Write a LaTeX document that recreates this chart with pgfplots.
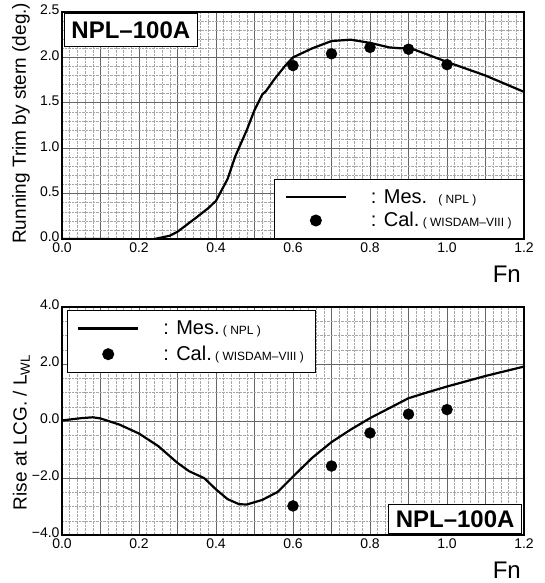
\documentclass[border=0pt]{standalone}
\usepackage{fontspec}
\setmainfont{Liberation Sans}
\usepackage{pgfplots}
\pgfplotsset{compat=1.18}
\pgfplotsset{
  base/.style={
    scale only axis, width=462pt,
    xmin=0, xmax=1.2,
    xtick={0,0.1,0.2,0.3,0.4,0.5,0.6,0.7,0.8,0.9,1.0,1.1,1.2},
    xticklabels={0.0,,0.2,,0.4,,0.6,,0.8,,1.0,,1.2},
    minor x tick num=4,
    grid=both,
    major grid style={gray!80!black, line width=0.7pt},
    minor grid style={gray!70, densely dotted, line width=0.5pt},
    major tick length=0pt, minor tick length=0pt,
    axis line style={line width=1.3pt},
    tick label style={font=\fontsize{14}{14}\selectfont},
    /pgf/number format/assume math mode=true,
    xticklabel style={yshift=0pt},
    yticklabel style={xshift=1pt, yshift=2pt},
    label style={font=\fontsize{19}{19}\selectfont},
    xlabel={Fn},
    xlabel style={at={(axis description cs:1,0)}, anchor=north east, font=\fontsize{24}{24}\selectfont, inner sep=0pt, yshift=-27pt, xshift=-3pt},
    legend cell align=left,
    legend style={draw=black, line width=1pt, fill=white,
      font=\fontsize{20}{20}\selectfont, inner xsep=10pt, inner ysep=8pt,
      row sep=4pt,
      /tikz/every odd column/.append style={column sep=22pt}},
  }
}
\newcommand{\smalltag}{\fontsize{12}{12}\selectfont}
\begin{document}
\begin{tikzpicture}
\useasboundingbox (0,0) rectangle (545pt,583pt);
% ---------------- top ----------------
\begin{axis}[base, at={(62pt,344pt)}, anchor=south west, height=227pt,
  ymin=0, ymax=2.5,
  ytick={0,0.5,1.0,1.5,2.0,2.5},
  yticklabels={0.0,0.5,1.0,1.5,2.0,2.5},
  minor y tick num=4,
  ylabel={Running Trim by stern (deg.)},
  ylabel style={at={(axis description cs:-0.062,0.51)}, anchor=south},
  legend style={at={(1,0)}, anchor=south east},
  unbounded coords=jump]
\addplot[black, line width=2.2pt, line join=round,
  legend image code/.code={\draw[line width=2.2pt] (0pt,0pt) -- (60pt,0pt);}]
coordinates {
(0,0) (0.12,0) (0.18,nan)
(0.24,0) (0.28,0.036) (0.30,0.08) (0.35,0.24) (0.38,0.34) (0.40,0.42)
(0.43,0.66) (0.45,0.91) (0.48,1.20) (0.50,1.42) (0.52,1.59) (0.53,1.63)
(0.55,1.75) (0.58,1.91) (0.60,2.00) (0.65,2.10) (0.70,2.18) (0.75,2.195)
(0.80,2.16) (0.85,2.11) (0.88,2.10) (0.90,2.11) (0.95,2.03) (1.00,1.95)
(1.10,1.80) (1.20,1.62)
};
\addlegendentry{: Mes.\ \ {\smalltag( NPL )}}
\addplot[only marks, mark=*, mark size=5.5pt, black,
  legend image code/.code={\fill (30pt,0pt) circle (5.5pt);}]
coordinates {(0.6,1.91) (0.7,2.04) (0.8,2.11) (0.9,2.09) (1.0,1.92)};
\addlegendentry{: Cal.\,{\smalltag( WISDAM–VIII )}}
\node[draw, line width=1.3pt, fill=white, anchor=north west,
  font=\bfseries\fontsize{24}{24}\selectfont, inner xsep=7pt, inner ysep=8pt]
  at (rel axis cs:0.004,0.996) {NPL–100A};
\end{axis}
% ---------------- bottom ----------------
\begin{axis}[base, at={(62pt,48pt)}, anchor=south west, height=228pt,
  ymin=-4, ymax=4,
  ytick={-4,-2,0,2,4},
  yticklabels={−4.0,−2.0,0.0,2.0,4.0},
  minor y tick num=3,
  ylabel={Rise at LCG. / L\textsubscript{WL}},
  ylabel style={at={(axis description cs:-0.062,0.45)}, anchor=south},
  legend style={at={(0.01,0.985)}, anchor=north west, row sep=6pt}]
\addplot[black, line width=2.2pt, line join=round,
  legend image code/.code={\draw[line width=2.2pt] (0pt,0pt) -- (60pt,0pt);}]
coordinates {
(0,0.02) (0.05,0.10) (0.08,0.13) (0.10,0.09) (0.15,-0.13) (0.20,-0.44)
(0.25,-0.88) (0.30,-1.47) (0.33,-1.76) (0.37,-2.01) (0.40,-2.40)
(0.43,-2.74) (0.46,-2.92) (0.48,-2.93) (0.52,-2.77) (0.56,-2.49)
(0.60,-1.95) (0.65,-1.29) (0.70,-0.74) (0.75,-0.30) (0.80,0.10)
(0.85,0.45) (0.90,0.80) (0.95,1.01) (1.00,1.21) (1.10,1.58) (1.20,1.91)
};
\addlegendentry{: Mes.\,{\smalltag( NPL )}}
\addplot[only marks, mark=*, mark size=5.5pt, black,
  legend image code/.code={\fill (30pt,0pt) circle (5.5pt);}]
coordinates {(0.6,-2.98) (0.7,-1.58) (0.8,-0.42) (0.9,0.24) (1.0,0.40)};
\addlegendentry{: Cal.\,{\smalltag( WISDAM–VIII )}}
\node[draw, line width=1.3pt, fill=white, anchor=south east,
  font=\bfseries\fontsize{24}{24}\selectfont, inner xsep=7pt, inner ysep=6pt]
  at (rel axis cs:0.996,0.004) {NPL–100A};
\node[anchor=south west, font=\fontsize{13}{13}\selectfont, inner sep=0pt]
  at (axis description cs:-0.074,1.06) {(\,×\,10\textsuperscript{−3}\,)};
\end{axis}
\end{tikzpicture}
\end{document}
